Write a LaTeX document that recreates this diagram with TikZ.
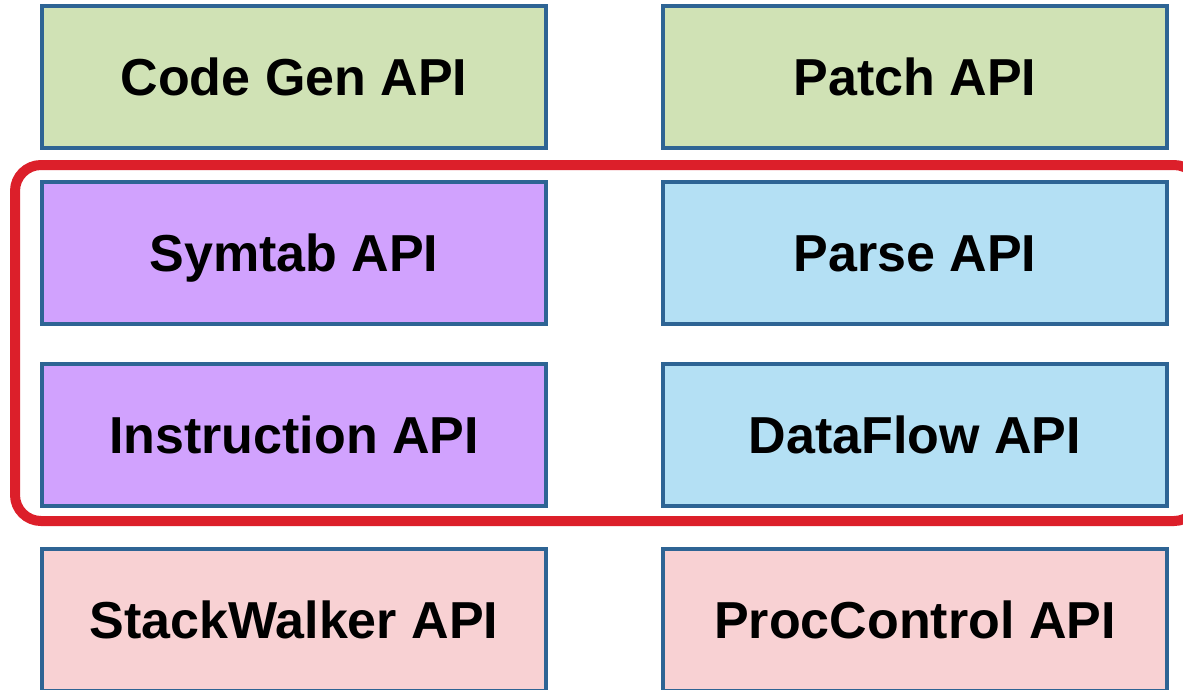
\documentclass[tikz,border=0pt]{standalone}
\usepackage{fontspec}
\setmainfont{Liberation Sans}
\definecolor{edgeblue}{HTML}{2E6494}
\definecolor{gengreen}{HTML}{D0E2B5}
\definecolor{symviolet}{HTML}{D1A2FE}
\definecolor{parseblue}{HTML}{B4E0F4}
\definecolor{procpink}{HTML}{F8D1D3}
\definecolor{groupred}{HTML}{DC1F2A}
\tikzset{
  apibox/.style={draw=edgeblue, line width=2pt, rectangle,
    minimum width=252pt, minimum height=71pt, inner sep=0pt,
    text height=18.6pt, text depth=0pt,
    font=\fontsize{26pt}{30pt}\selectfont\bfseries},
  grouprect/.style={draw=groupred, line width=5pt, rounded corners=13pt}
}
\begin{document}
\begin{tikzpicture}[x=0.5pt, y=-0.5pt]
  \useasboundingbox (0,0) rectangle (1183,690);
  \clip (0,0) rectangle (1183,690);
  \fill[white] (0,0) rectangle (1183,690);

  % top row: code generation and patching
  \node[apibox, fill=gengreen] (codegen) at (294,77) {Code Gen API};
  \node[apibox, fill=gengreen] (patch) at (915,77) {Patch API};

  % analysis components grouped by the red outline
  \node[apibox, fill=symviolet] (symtab) at (294,252.5) {Symtab API};
  \node[apibox, fill=parseblue] (parse) at (915,252.5) {Parse API};
  \node[apibox, fill=symviolet] (instr) at (294,435) {Instruction API};
  \node[apibox, fill=parseblue] (dataflow) at (915,435) {DataFlow API};

  % bottom row: runtime components
  \node[apibox, fill=procpink] (stackwalker) at (294,620) {StackWalker API};
  \node[apibox, fill=procpink] (proccontrol) at (915,620) {ProcControl API};

  % outline around the analysis group
  \draw[grouprect] (15,165) rectangle (1200,521);
\end{tikzpicture}
\end{document}
